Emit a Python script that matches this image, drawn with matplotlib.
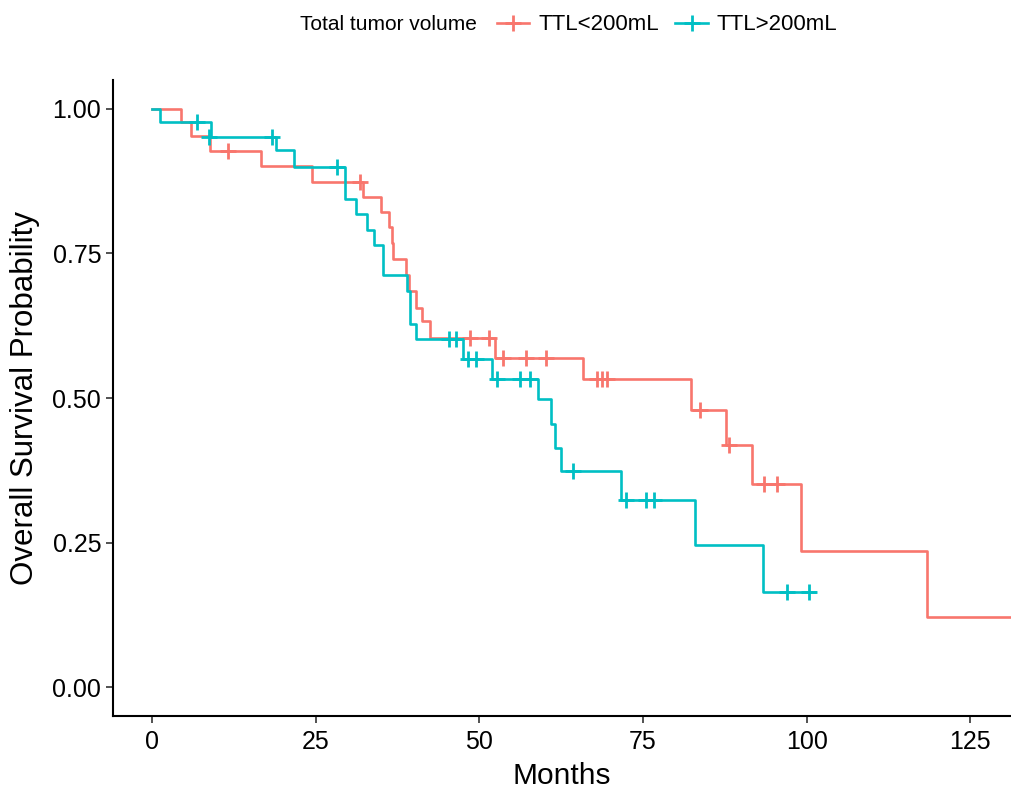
import matplotlib
matplotlib.use("Agg")
import matplotlib.pyplot as plt
from matplotlib.lines import Line2D

# Kaplan-Meier curves
red_t = [0, 4.4, 5.9, 8.9, 16.7, 24.4, 32.3, 35.0, 36.2, 36.6, 36.8, 38.8, 39.2,
         40.4, 41.2, 42.4, 52.4, 65.8, 82.3, 87.6, 91.7, 99.2, 118.4, 131.5]
red_s = [1.0, 0.977, 0.954, 0.928, 0.902, 0.874, 0.847, 0.821, 0.795, 0.768, 0.741, 0.713, 0.685,
         0.656, 0.633, 0.604, 0.569, 0.533, 0.480, 0.419, 0.352, 0.235, 0.121, 0.121]
red_cens_t = [11.6, 31.7, 48.5, 51.4, 53.6, 57.2, 60.2, 68.0, 68.8, 69.5, 83.7, 88.1, 93.4, 95.5]
red_cens_s = [0.928, 0.874, 0.604, 0.604, 0.569, 0.569, 0.569, 0.533, 0.533, 0.533, 0.480, 0.419, 0.352, 0.352]

cyan_t = [0, 1.2, 9.0, 19.0, 21.7, 29.5, 31.1, 32.8, 33.9, 35.3, 38.9, 39.4, 40.3,
          47.5, 51.9, 59.0, 61.0, 61.5, 62.4, 71.7, 83.0, 93.3, 101.2]
cyan_s = [1.0, 0.977, 0.952, 0.929, 0.899, 0.845, 0.818, 0.791, 0.765, 0.712, 0.685, 0.628, 0.602,
          0.568, 0.533, 0.499, 0.455, 0.413, 0.373, 0.324, 0.246, 0.165, 0.165]
cyan_cens_t = [6.9, 8.7, 18.3, 28.2, 45.3, 46.5, 48.3, 49.5, 52.7, 56.2, 57.7, 64.3, 72.4, 75.4, 76.6, 97.0, 100.4]
cyan_cens_s = [0.977, 0.952, 0.952, 0.899, 0.602, 0.602, 0.568, 0.568, 0.533, 0.533, 0.533, 0.373,
               0.324, 0.324, 0.324, 0.165, 0.165]

groups = ["TTL<200mL", "TTL>200mL"]
colors = ["#F8766D", "#00BFC4"]
x_ticks = [0, 25, 50, 75, 100, 125]
y_ticks = [0.0, 0.25, 0.5, 0.75, 1.0]

plt.rcParams['font.family'] = ['Liberation Sans', 'DejaVu Sans']

fig = plt.figure(figsize=(10.11, 7.9), dpi=100)
ax = fig.add_axes([113 / 1011, 74 / 790, 898 / 1011, 636 / 790])

lw = 1.9
ax.step(red_t, red_s, where='post', color=colors[0], lw=lw)
ax.step(cyan_t, cyan_s, where='post', color=colors[1], lw=lw)
ax.plot(red_cens_t, red_cens_s, ls='none', marker='+', color=colors[0], ms=11, mew=2)
ax.plot(cyan_cens_t, cyan_cens_s, ls='none', marker='+', color=colors[1], ms=11, mew=2)

ax.set_xlim(-5.95, 131.2)
ax.set_ylim(-0.05, 1.05)
ax.set_xticks(x_ticks)
ax.set_yticks(y_ticks)
ax.set_yticklabels(["%.2f" % v for v in y_ticks])
ax.tick_params(labelsize=18, colors='#333333', length=5, width=1.2, labelcolor='black')
ax.tick_params(axis='x', pad=5)
for s in ['top', 'right']:
    ax.spines[s].set_visible(False)
for s in ['left', 'bottom']:
    ax.spines[s].set_linewidth(1.5)
    ax.spines[s].set_color('black')

ax.set_xlabel("Months", fontsize=21.5, labelpad=6)
ax.set_ylabel("Overall Survival Probability", fontsize=22.5, labelpad=9)

# legend on top, title on the left
fig.text(300 / 1011, 1 - 25 / 790, "Total tumor volume", fontsize=15, va='center', ha='left')
handles = [Line2D([], [], color=c, lw=lw, marker='+', ms=11, mew=2) for c in colors]
fig.legend(handles, groups, loc='center left', bbox_to_anchor=(477 / 1011, 1 - 25 / 790),
           ncol=2, frameon=False, handlelength=1.45, handletextpad=0.4, columnspacing=0.75,
           prop={'size': 16})

fig.savefig("out.png", dpi=100)
